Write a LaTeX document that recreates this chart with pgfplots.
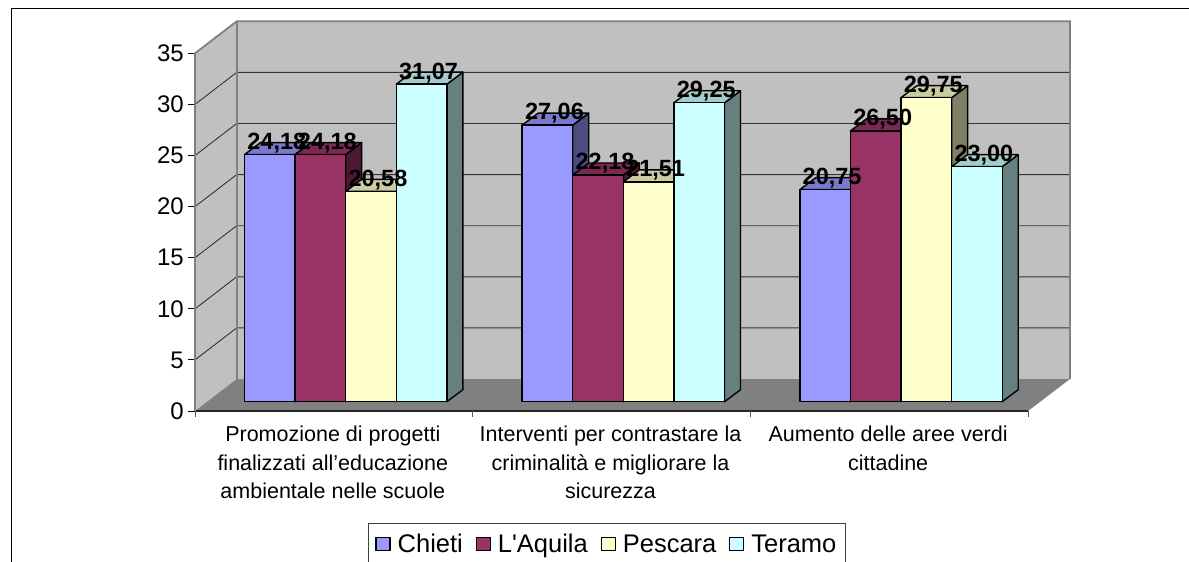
\documentclass[border=0pt]{standalone}
\usepackage{pgfplots}
\pgfplotsset{compat=1.18}
\usepackage{fontspec}
\setmainfont{Liberation Sans}
\newfontfamily\plainf{Liberation Sans}
\definecolor{cA}{HTML}{9999FF}
\definecolor{cB}{HTML}{993366}
\definecolor{cC}{HTML}{FFFFCC}
\definecolor{cD}{HTML}{CCFFFF}
\definecolor{wall}{HTML}{C0C0C0}
\definecolor{edge}{HTML}{808080}
\definecolor{gridc}{HTML}{333333}
% one 3-D column: group, position in group, value, colour
\newcommand\column[4]{%
  \pgfmathsetmacro\xl{#1-0.5+0.1783+#2*0.1822}%
  \pgfmathsetmacro\xr{\xl+0.1822}%
  \pgfmathsetmacro\xrd{\xr+0.0576}%
  \pgfmathsetmacro\xld{\xl+0.0576}%
  \pgfmathsetmacro\yt{#3+0.91}%
  \pgfmathsetmacro\ytd{\yt+1.174}%
  \pgfmathsetmacro\ybd{0.91+1.174}%
  \addplot[forget plot,mark=none,fill=#4!50!black,draw=black,line width=1.4pt,line join=round]
    coordinates {(\xr,0.91)(\xrd,\ybd)(\xrd,\ytd)(\xr,\yt)} --cycle;
  \addplot[forget plot,mark=none,fill=#4!80!black,draw=black,line width=1.4pt,line join=round]
    coordinates {(\xl,\yt)(\xld,\ytd)(\xrd,\ytd)(\xr,\yt)} --cycle;
  \addplot[forget plot,mark=none,fill=#4,draw=black,line width=1.4pt,line join=round]
    coordinates {(\xl,0.91)(\xl,\yt)(\xr,\yt)(\xr,0.91)} --cycle;
}
% value label of a column: group, position in group, value, text
\newcommand\vlabel[4]{%
  \pgfmathsetmacro\xc{#1-0.5+0.1783+#2*0.1822+0.0911+0.0252}%
  \pgfmathsetmacro\yc{#3+0.91+1.13}%
  \addplot[forget plot,draw=none,mark=none,point meta=explicit symbolic,
    nodes near coords={\pgfplotspointmeta},
    nodes near coords style={anchor=center,inner sep=0pt,text=black,
      font=\fontsize{23.5}{25}\selectfont\bfseries}]
    coordinates {(\xc,\yc) [#4]};
}
\begin{document}
\begin{tikzpicture}[x=1pt,y=1pt]
\path[use as bounding box,clip] (0,0) rectangle (1189,-562);
% chart frame
\draw[black,line width=1.5pt] (11.5,-570) -- (11.5,-8.5) -- (1195,-8.5);
% walls and floor
\fill[wall] (195,-411) -- (236.7,-379) -- (236.7,-21.3) -- (195,-53.3) -- cycle;
\fill[wall] (236.7,-21.3) rectangle (1070,-379);
\fill[edge] (195,-411) -- (1028,-411) -- (1070,-379) -- (236.7,-379) -- cycle;
\foreach \k in {1,...,6}{
  \pgfmathsetmacro\ya{-411+51.1*\k}
  \pgfmathsetmacro\yb{-379+51.1*\k}
  \draw[gridc,line width=0.9pt] (195,\ya) -- (236.7,\yb) -- (1070,\yb);
}
\draw[edge,line width=1.8pt] (195,-53.3) -- (236.7,-21.3) -- (1070,-21.3) -- (1070,-379);
\draw[edge,line width=1.8pt] (236.7,-21.3) -- (236.7,-379);
\begin{axis}[
  at={(195pt,-411pt)},anchor=south west,
  scale only axis,width=833pt,height=357.7pt,
  xmin=-0.5,xmax=2.5,ymin=0,ymax=35,clip=false,
  axis x line*=bottom,axis y line*=left,
  x axis line style={-,draw=black!85,line width=1.6pt},
  y axis line style={-,draw=edge,line width=1.4pt},
  ytick={0,5,...,35},
  xtick={0,1,2},
  xticklabels={{Promozione di progetti\\finalizzati all’educazione\\ambientale nelle scuole},
               {Interventi per contrastare la\\criminalità e migliorare la\\sicurezza},
               {Aumento delle aree verdi\\cittadine}},
  tick align=outside,major tick length=7pt,
  ytick style={draw=black,line width=0.9pt},
  xtick style={draw=none},
  extra x ticks={-0.5,0.5,1.5,2.5},
  extra x tick labels={},
  extra x tick style={tickwidth=6pt,xtick style={draw=edge!70!black,line width=1pt}},
  /pgf/number format/assume math mode=true,
  y tick label style={font=\fontsize{24}{26}\selectfont,inner sep=0pt,xshift=-4pt},
  x tick label style={font=\fontsize{21.5}{28.3}\selectfont,align=center,anchor=north,inner sep=0pt,yshift=-8pt,xshift=-1pt},
  legend columns=-1,
  legend style={at={(0.2073,-0.3123)},anchor=north west,draw=black!75,line width=1pt,
    font=\fontsize{25.5}{27}\selectfont,inner xsep=7.2pt,inner ysep=9pt,
    /tikz/every even column/.style={column sep=10.7pt},
    /tikz/every odd column/.style={column sep=5pt}},
  legend image code/.code={\draw[#1,line width=1.3pt] (0pt,-6.5pt) rectangle (14pt,7pt);},
  legend cell align=left,
]
\addlegendimage{fill=cA,draw=black}
\addlegendimage{fill=cB,draw=black}
\addlegendimage{fill=cC,draw=black}
\addlegendimage{fill=cD,draw=black}
\legend{Chieti,{\plainf L'Aquila},Pescara,Teramo}

\column{0}{0}{24.18}{cA}
\column{0}{1}{24.18}{cB}
\column{0}{2}{20.58}{cC}
\column{0}{3}{31.07}{cD}
\column{1}{0}{27.06}{cA}
\column{1}{1}{22.18}{cB}
\column{1}{2}{21.51}{cC}
\column{1}{3}{29.25}{cD}
\column{2}{0}{20.75}{cA}
\column{2}{1}{26.50}{cB}
\column{2}{2}{29.75}{cC}
\column{2}{3}{23.00}{cD}

\vlabel{0}{0}{24.18}{24,18}
\vlabel{0}{1}{24.18}{24,18}
\vlabel{0}{2}{20.58}{20,58}
\vlabel{0}{3}{31.07}{31,07}
\vlabel{1}{0}{27.06}{27,06}
\vlabel{1}{1}{22.18}{22,18}
\vlabel{1}{2}{21.51}{21,51}
\vlabel{1}{3}{29.25}{29,25}
\vlabel{2}{0}{20.75}{20,75}
\vlabel{2}{1}{26.50}{26,50}
\vlabel{2}{2}{29.75}{29,75}
\vlabel{2}{3}{23.00}{23,00}
\end{axis}
\end{tikzpicture}
\end{document}
